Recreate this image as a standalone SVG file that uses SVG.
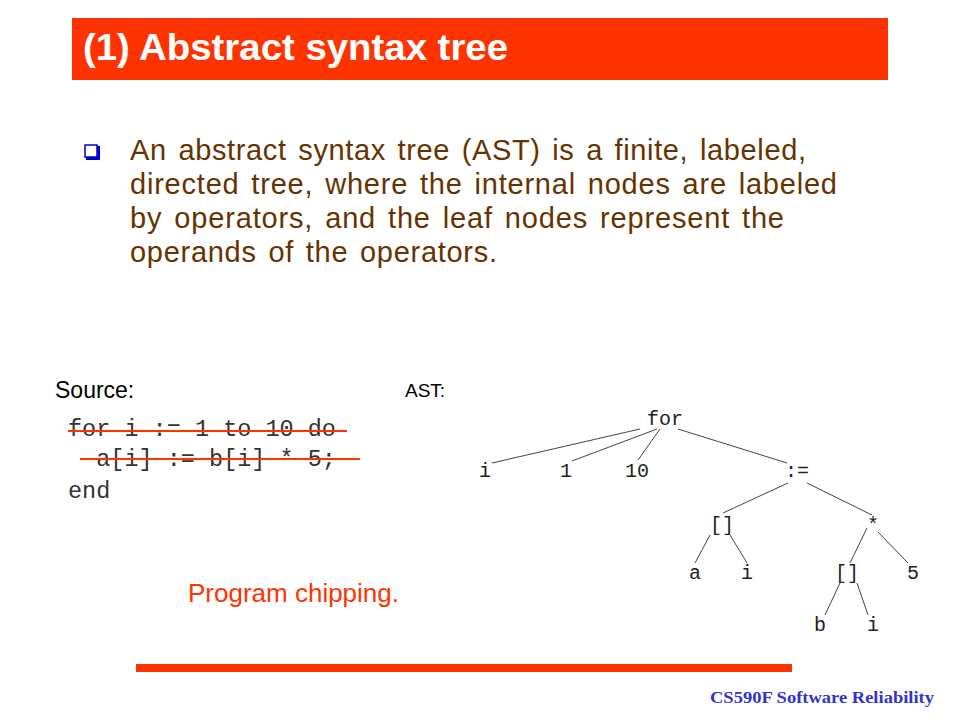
<svg xmlns="http://www.w3.org/2000/svg" width="960" height="720" viewBox="0 0 960 720">
<style>
.title{font-family:"Liberation Sans",Arial,sans-serif;font-weight:bold;font-size:37px;fill:#fff}
.body{font-family:"Liberation Sans",Arial,sans-serif;font-size:29px;word-spacing:3px;fill:#663300}
.lbl{font-family:"Liberation Sans",Arial,sans-serif;fill:#000}
.code{font-family:"Liberation Mono","Courier New",monospace;font-size:23.5px;fill:#333}
.node{font-family:"Liberation Mono","Courier New",monospace;font-size:20px;fill:#222;text-anchor:middle}
.edge{stroke:#444;stroke-width:1;fill:none}
.strike{stroke:#FF3300;stroke-width:2.2}
</style>
<rect x="0" y="0" width="960" height="720" fill="#fff"/>
<g id="header">
<rect x="72" y="18" width="816" height="62" fill="#FF3300"/>
<text class="title" x="83" y="60" textLength="425" lengthAdjust="spacingAndGlyphs">(1) Abstract syntax tree</text>
</g>
<g id="bullet">
<rect x="85" y="145" width="12" height="12" fill="#fff" stroke="#0000CC" stroke-width="1.5"/>
<path d="M86 158.5 H98.5 V146" stroke="#0000CC" stroke-width="3" fill="none"/>
<text class="body" x="130" y="160" textLength="676" lengthAdjust="spacing">An abstract syntax tree (AST) is a finite, labeled,</text>
<text class="body" x="130" y="194" textLength="707" lengthAdjust="spacing">directed tree, where the internal nodes are labeled</text>
<text class="body" x="130" y="228" textLength="654" lengthAdjust="spacing">by operators, and the leaf nodes represent the</text>
<text class="body" x="130" y="262" textLength="367" lengthAdjust="spacing">operands of the operators.</text>
</g>
<g id="source">
<text class="lbl" x="55" y="398" font-size="23">Source:</text>
<text class="code" x="68" y="436" xml:space="preserve">for i := 1 to 10 do</text>
<text class="code" x="68" y="466" xml:space="preserve">  a[i] := b[i] * 5;</text>
<text class="code" x="68" y="498">end</text>
<line class="strike" x1="68" y1="431" x2="347" y2="431"/>
<line class="strike" x1="80" y1="459" x2="360" y2="459"/>
</g>
<g id="ast-label">
<text class="lbl" x="405" y="397" font-size="19">AST:</text>
</g>
<g id="connectors">
<line class="edge" x1="640" y1="429" x2="492" y2="463"/>
<line class="edge" x1="657" y1="429" x2="572" y2="461"/>
<line class="edge" x1="660" y1="429" x2="638" y2="460"/>
<line class="edge" x1="678" y1="429" x2="787" y2="463"/>
<line class="edge" x1="788" y1="483" x2="723" y2="513"/>
<line class="edge" x1="807" y1="483" x2="872" y2="515"/>
<line class="edge" x1="710" y1="535" x2="695" y2="563"/>
<line class="edge" x1="730" y1="535" x2="747" y2="563"/>
<line class="edge" x1="867" y1="528" x2="850" y2="563"/>
<line class="edge" x1="878" y1="532" x2="908" y2="563"/>
<line class="edge" x1="840" y1="583" x2="825" y2="615"/>
<line class="edge" x1="857" y1="583" x2="868" y2="615"/>
</g>
<g id="n-for"><text class="node" x="665" y="425">for</text></g>
<g id="n-i1"><text class="node" x="485" y="477">i</text></g>
<g id="n-1"><text class="node" x="566" y="477">1</text></g>
<g id="n-10"><text class="node" x="637" y="477">10</text></g>
<g id="n-assign"><text class="node" x="797" y="477">:=</text></g>
<g id="n-idx1"><text class="node" x="722" y="531">[]</text></g>
<g id="n-mul"><text class="node" x="873" y="531">*</text></g>
<g id="n-a"><text class="node" x="695" y="579">a</text></g>
<g id="n-i2"><text class="node" x="747" y="579">i</text></g>
<g id="n-idx2"><text class="node" x="847" y="579">[]</text></g>
<g id="n-5"><text class="node" x="913" y="579">5</text></g>
<g id="n-b"><text class="node" x="820" y="631">b</text></g>
<g id="n-i3"><text class="node" x="873" y="631">i</text></g>
<g id="note">
<text x="188" y="602" font-family="Liberation Sans,Arial,sans-serif" font-size="26" fill="#FF3300">Program chipping.</text>
</g>
<g id="footer">
<rect x="136" y="664" width="656" height="8" fill="#FF3300"/>
<text x="710" y="703" textLength="224" lengthAdjust="spacingAndGlyphs" font-family="Liberation Serif,'Times New Roman',serif" font-weight="bold" font-size="17" fill="#3333CC">CS590F Software Reliability</text>
</g>
</svg>
